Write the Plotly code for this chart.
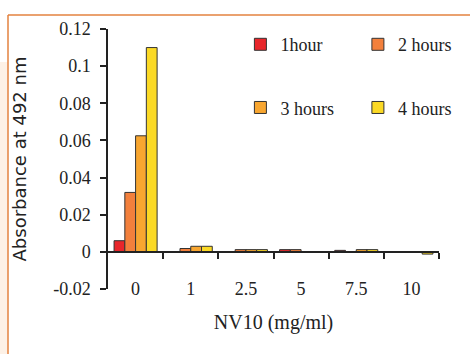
import plotly.graph_objects as go

# NV10 concentrations (mg/ml) and absorbance at 492 nm per incubation time
categories = ["0", "1", "2.5", "5", "7.5", "10"]
hour1 = [0.006, 0.0, 0.0, 0.0012, 0.0008, 0.0]
hours2 = [0.032, 0.0018, 0.0012, 0.0012, 0.0, 0.0]
hours3 = [0.0625, 0.003, 0.0012, 0.0, 0.0012, 0.0]
hours4 = [0.110, 0.003, 0.0012, 0.0, 0.0012, -0.0012]

series_names = ["1hour", "2 hours", "3 hours", "4 hours"]
series_colors = ["#e8262b", "#f3803c", "#f8a630", "#fbd925"]
series_values = [hour1, hours2, hours3, hours4]

y_ticks = [-0.02, 0, 0.02, 0.04, 0.06, 0.08, 0.1, 0.12]
y_ticktext = ["-0.02", "0", "0.02", "0.04", "0.06", "0.08", "0.1", "0.12"]

SERIF = "Liberation Serif, Times New Roman, serif"
SANS = "DejaVu Sans, Arial, sans-serif"

fig = go.Figure()
legend_ids = ["legend", "legend2", "legend3", "legend4"]
for name, color, vals, lg in zip(series_names, series_colors, series_values, legend_ids):
    fig.add_trace(go.Bar(
        x=list(range(len(categories))), y=vals, name=name,
        marker=dict(color=color, line=dict(color="#333333", width=1)),
        legend=lg,
    ))

legend_common = dict(font=dict(family=SERIF, size=18, color="#222222"),
                      bgcolor="rgba(0,0,0,0)", borderwidth=0,
                      xanchor="left", yanchor="middle", itemwidth=30)

fig.update_layout(
    width=470, height=354,
    margin=dict(l=108, r=31, t=29, b=65),
    paper_bgcolor="white", plot_bgcolor="white",
    barmode="group", bargap=0.22, bargroupgap=0,
    showlegend=True,
    legend=dict(x=0.40, y=0.94, **legend_common),
    legend2=dict(x=0.755, y=0.94, **legend_common),
    legend3=dict(x=0.40, y=0.697, **legend_common),
    legend4=dict(x=0.755, y=0.697, **legend_common),
    yaxis=dict(range=[-0.02, 0.12], tickvals=y_ticks, ticktext=y_ticktext,
               showline=True, linecolor="#222222", linewidth=1.5,
               ticks="outside", ticklen=6, tickcolor="#222222", tickwidth=1.5,
               showgrid=False, zeroline=False,
               tickfont=dict(family=SERIF, size=18, color="#222222"),
               ticklabelstandoff=6,
               title=dict(text="Absorbance at 492 nm",
                          font=dict(family=SANS, size=18, color="#222222"),
                          standoff=22)),
    # category labels along the bottom of the plot area
    xaxis=dict(range=[-0.5, 5.5], tickvals=list(range(len(categories))),
               ticktext=categories, showline=False, ticks="", showgrid=False,
               zeroline=False, anchor="free", position=0.05,
               tickfont=dict(family=SERIF, size=18, color="#222222"),
               title=dict(text="NV10 (mg/ml)",
                          font=dict(family=SERIF, size=20, color="#222222"),
                          standoff=16)),
    # axis line at zero with ticks between the categories
    xaxis2=dict(range=[-0.5, 5.5], overlaying="x", anchor="free",
                position=0.02 / 0.14, side="bottom",
                tickvals=[0.5, 1.5, 2.5, 3.5, 4.5, 5.5],
                showticklabels=False, showline=True, linecolor="#222222",
                linewidth=1.5, ticks="outside", ticklen=6, tickcolor="#222222",
                tickwidth=1.5, showgrid=False, zeroline=False),
)
# an invisible trace so the zero-line axis is drawn
fig.add_trace(go.Scatter(x=[0], y=[0], xaxis="x2", mode="markers",
                         marker=dict(opacity=0), showlegend=False,
                         hoverinfo="skip"))

# page decoration: soft peach tint and orange frame lines
fig.add_shape(type="rect", xref="paper", yref="paper",
              x0=-108 / 331, x1=-100 / 331, y0=-65 / 260, y1=227 / 260,
              fillcolor="#fdf1e6", line=dict(width=0), layer="below")
fig.add_shape(type="path", xref="paper", yref="paper",
              path="M %f %f L %f %f L %f %f Z" % (-108 / 331, 325 / 260,
                                                   60 / 331, 325 / 260,
                                                   -108 / 331, 290 / 260),
              fillcolor="#fdf3ea", line=dict(width=0), layer="below")
fig.add_shape(type="line", xref="paper", yref="paper",
              x0=-100 / 331, x1=362 / 331, y0=274 / 260, y1=274 / 260,
              line=dict(color="#e3823f", width=1.5))
fig.add_shape(type="line", xref="paper", yref="paper",
              x0=-100 / 331, x1=-100 / 331, y0=274 / 260, y1=-65 / 260,
              line=dict(color="#e3823f", width=1.5))

fig.write_html("out.html")
